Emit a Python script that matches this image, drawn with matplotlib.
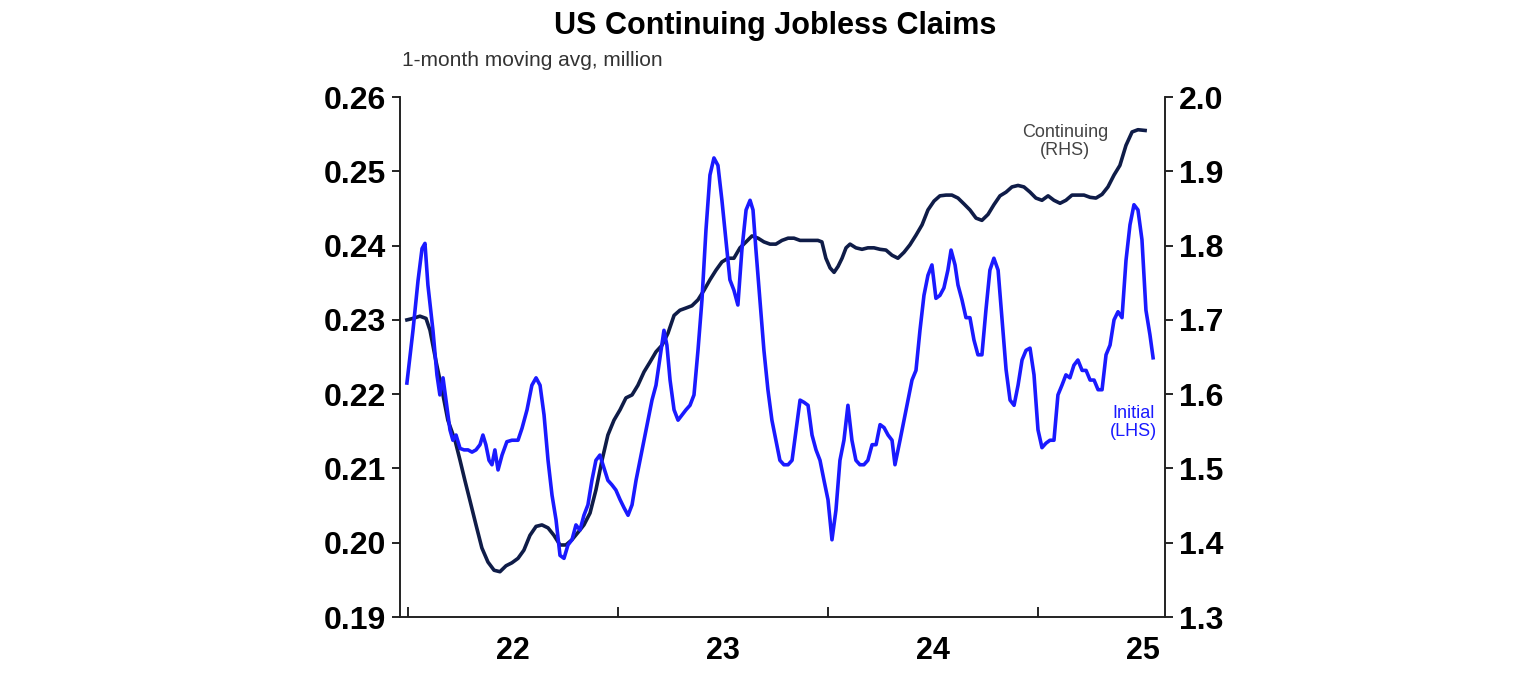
import matplotlib.pyplot as plt
from matplotlib.ticker import FixedLocator, NullFormatter, FixedFormatter

plt.rcParams["font.family"] = "Liberation Sans"

# data: decimal years, initial claims (LHS, million), continuing claims (RHS, million)
initial_x = [2021.495, 2021.524, 2021.548, 2021.567, 2021.581, 2021.595, 2021.619, 2021.638, 2021.652, 2021.667,
             2021.681, 2021.700, 2021.714, 2021.729, 2021.748, 2021.767, 2021.786, 2021.805, 2021.824, 2021.843,
             2021.857, 2021.871, 2021.886, 2021.900, 2021.914, 2021.929, 2021.948, 2021.971, 2021.995, 2022.024,
             2022.043, 2022.067, 2022.090, 2022.110, 2022.129, 2022.148, 2022.167, 2022.186, 2022.205, 2022.224,
             2022.243, 2022.262, 2022.281, 2022.300, 2022.319, 2022.338, 2022.357, 2022.376, 2022.395, 2022.414,
             2022.433, 2022.452, 2022.471, 2022.490, 2022.510, 2022.529, 2022.548, 2022.567, 2022.586, 2022.605,
             2022.624, 2022.643, 2022.662, 2022.681, 2022.700, 2022.719, 2022.733, 2022.748, 2022.767, 2022.786,
             2022.805, 2022.824, 2022.843, 2022.862, 2022.881, 2022.900, 2022.919, 2022.938, 2022.957, 2022.976,
             2022.995, 2023.014, 2023.033, 2023.052, 2023.071, 2023.090, 2023.110, 2023.129, 2023.143, 2023.157,
             2023.176, 2023.195, 2023.214, 2023.233, 2023.252, 2023.271, 2023.290, 2023.310, 2023.329, 2023.348,
             2023.367, 2023.386, 2023.405, 2023.424, 2023.443, 2023.462, 2023.481, 2023.500, 2023.519, 2023.538,
             2023.557, 2023.576, 2023.595, 2023.614, 2023.633, 2023.652, 2023.671, 2023.690, 2023.710, 2023.729,
             2023.748, 2023.767, 2023.786, 2023.805, 2023.819, 2023.843, 2023.862, 2023.881, 2023.900, 2023.919,
             2023.938, 2023.957, 2023.976, 2023.995, 2024.014, 2024.033, 2024.052, 2024.071, 2024.086, 2024.105,
             2024.119, 2024.138, 2024.157, 2024.176, 2024.195, 2024.214, 2024.233, 2024.252, 2024.271, 2024.290,
             2024.310, 2024.329, 2024.348, 2024.367, 2024.386, 2024.405, 2024.424, 2024.443, 2024.462, 2024.481,
             2024.500, 2024.519, 2024.538, 2024.557, 2024.576, 2024.595, 2024.614, 2024.633, 2024.652, 2024.671,
             2024.690, 2024.710, 2024.729, 2024.748, 2024.767, 2024.786, 2024.805, 2024.824, 2024.843, 2024.862,
             2024.881, 2024.900, 2024.919, 2024.938, 2024.957, 2024.976, 2024.995, 2025.014, 2025.033, 2025.048]
initial_claims = [0.2215, 0.2286, 0.2353, 0.2396, 0.2403, 0.2347, 0.2286, 0.2226, 0.2199, 0.2222,
                  0.2192, 0.2152, 0.2138, 0.2145, 0.2127, 0.2125, 0.2125, 0.2122, 0.2125, 0.2132,
                  0.2145, 0.2132, 0.2111, 0.2105, 0.2125, 0.2098, 0.2118, 0.2136, 0.2138, 0.2138,
                  0.2154, 0.2179, 0.2212, 0.2222, 0.2212, 0.2172, 0.2111, 0.2064, 0.2031, 0.1983,
                  0.1979, 0.1997, 0.2004, 0.2024, 0.2017, 0.2037, 0.2051, 0.2084, 0.2111, 0.2118,
                  0.2101, 0.2084, 0.2078, 0.2071, 0.2058, 0.2047, 0.2037, 0.2051, 0.2084, 0.2111,
                  0.2138, 0.2165, 0.2192, 0.2212, 0.2249, 0.2286, 0.2266, 0.2219, 0.2179, 0.2165,
                  0.2172, 0.2179, 0.2185, 0.2199, 0.2259, 0.2327, 0.2421, 0.2495, 0.2518, 0.2508,
                  0.2461, 0.2408, 0.2354, 0.2340, 0.2320, 0.2394, 0.2448, 0.2461, 0.2448, 0.2394,
                  0.2327, 0.2259, 0.2206, 0.2165, 0.2138, 0.2111, 0.2105, 0.2105, 0.2111, 0.2152,
                  0.2192, 0.2189, 0.2185, 0.2145, 0.2125, 0.2111, 0.2084, 0.2058, 0.2004, 0.2044,
                  0.2111, 0.2138, 0.2185, 0.2138, 0.2111, 0.2105, 0.2105, 0.2111, 0.2132, 0.2132,
                  0.2159, 0.2155, 0.2145, 0.2138, 0.2105, 0.2138, 0.2165, 0.2192, 0.2219, 0.2232,
                  0.2286, 0.2333, 0.2360, 0.2374, 0.2329, 0.2333, 0.2343, 0.2367, 0.2394, 0.2374,
                  0.2347, 0.2327, 0.2303, 0.2303, 0.2273, 0.2253, 0.2253, 0.2313, 0.2367, 0.2383,
                  0.2367, 0.2300, 0.2233, 0.2192, 0.2185, 0.2212, 0.2246, 0.2259, 0.2262, 0.2226,
                  0.2152, 0.2128, 0.2134, 0.2138, 0.2138, 0.2199, 0.2212, 0.2226, 0.2222, 0.2239,
                  0.2246, 0.2232, 0.2232, 0.2219, 0.2219, 0.2206, 0.2206, 0.2253, 0.2266, 0.2300,
                  0.2311, 0.2303, 0.2380, 0.2428, 0.2455, 0.2448, 0.2408, 0.2313, 0.2280, 0.2249]

cont_x = [2021.495, 2021.524, 2021.557, 2021.586, 2021.605, 2021.633, 2021.662, 2021.690, 2021.724, 2021.748,
          2021.771, 2021.795, 2021.824, 2021.852, 2021.881, 2021.910, 2021.938, 2021.967, 2021.995, 2022.024,
          2022.052, 2022.081, 2022.110, 2022.138, 2022.167, 2022.195, 2022.224, 2022.252, 2022.281, 2022.310,
          2022.338, 2022.367, 2022.395, 2022.424, 2022.452, 2022.481, 2022.510, 2022.538, 2022.567, 2022.595,
          2022.624, 2022.652, 2022.681, 2022.710, 2022.738, 2022.767, 2022.795, 2022.824, 2022.852, 2022.881,
          2022.910, 2022.938, 2022.967, 2022.995, 2023.024, 2023.052, 2023.081, 2023.110, 2023.138, 2023.167,
          2023.195, 2023.224, 2023.252, 2023.281, 2023.310, 2023.338, 2023.367, 2023.395, 2023.424, 2023.452,
          2023.471, 2023.490, 2023.510, 2023.529, 2023.548, 2023.567, 2023.586, 2023.605, 2023.633, 2023.662,
          2023.690, 2023.719, 2023.748, 2023.776, 2023.805, 2023.833, 2023.862, 2023.890, 2023.919, 2023.948,
          2023.976, 2024.005, 2024.033, 2024.062, 2024.090, 2024.119, 2024.148, 2024.176, 2024.205, 2024.233,
          2024.262, 2024.290, 2024.319, 2024.348, 2024.376, 2024.405, 2024.433, 2024.462, 2024.490, 2024.519,
          2024.548, 2024.576, 2024.605, 2024.633, 2024.662, 2024.690, 2024.719, 2024.748, 2024.776, 2024.805,
          2024.833, 2024.862, 2024.890, 2024.919, 2024.948, 2024.976, 2025.010]
continuing_claims = [1.700, 1.702, 1.705, 1.702, 1.686, 1.645, 1.606, 1.565, 1.538, 1.511,
                     1.484, 1.457, 1.424, 1.393, 1.374, 1.363, 1.361, 1.369, 1.373, 1.379,
                     1.390, 1.410, 1.422, 1.424, 1.420, 1.410, 1.397, 1.397, 1.404, 1.414,
                     1.424, 1.440, 1.471, 1.511, 1.545, 1.565, 1.579, 1.595, 1.599, 1.612,
                     1.630, 1.643, 1.657, 1.666, 1.682, 1.706, 1.713, 1.716, 1.719, 1.727,
                     1.740, 1.754, 1.767, 1.778, 1.783, 1.783, 1.797, 1.805, 1.813, 1.810,
                     1.805, 1.802, 1.802, 1.807, 1.810, 1.810, 1.807, 1.807, 1.807, 1.807,
                     1.805, 1.783, 1.770, 1.764, 1.772, 1.783, 1.797, 1.802, 1.797, 1.795,
                     1.797, 1.797, 1.795, 1.794, 1.787, 1.783, 1.791, 1.801, 1.814, 1.828,
                     1.848, 1.860, 1.867, 1.868, 1.868, 1.864, 1.856, 1.848, 1.837, 1.834,
                     1.842, 1.855, 1.867, 1.872, 1.879, 1.881, 1.879, 1.872, 1.864, 1.861,
                     1.867, 1.861, 1.857, 1.861, 1.868, 1.868, 1.868, 1.865, 1.864, 1.869,
                     1.879, 1.895, 1.908, 1.935, 1.953, 1.956, 1.955]

year_labels = ["22", "23", "24", "25"]
year_label_pos = [2022.0, 2023.0, 2024.0, 2025.0]
year_tick_pos = [2021.5, 2022.5, 2023.5, 2024.5]
left_ticks = [0.19, 0.20, 0.21, 0.22, 0.23, 0.24, 0.25, 0.26]
right_ticks = [1.3, 1.4, 1.5, 1.6, 1.7, 1.8, 1.9, 2.0]

blue = "#1a1aff"
navy = "#0f1c48"

fig = plt.figure(figsize=(15.36, 6.8), dpi=100)
ax = fig.add_axes([0.2604, 0.0926, 0.4981, 0.7647])
ax2 = ax.twinx()

ax.plot(initial_x, initial_claims, color=blue, lw=2.6, zorder=3)
ax2.plot(cont_x, continuing_claims, color=navy, lw=2.6)
ax.set_zorder(ax2.get_zorder() + 1)
ax.patch.set_visible(False)

ax.set_xlim(2021.462, 2025.105)
ax.set_ylim(0.19, 0.26)
ax2.set_ylim(1.3, 2.0)

ax.set_yticks(left_ticks)
ax.set_yticklabels([f"{v:.2f}" for v in left_ticks])
ax2.set_yticks(right_ticks)
ax2.set_yticklabels([f"{v:.1f}" for v in right_ticks])

ax.xaxis.set_major_locator(FixedLocator(year_tick_pos))
ax.xaxis.set_major_formatter(NullFormatter())
ax.xaxis.set_minor_locator(FixedLocator(year_label_pos))
ax.xaxis.set_minor_formatter(FixedFormatter(year_labels))
ax.tick_params(axis="x", which="major", direction="in", length=7, width=1.2)
ax.tick_params(axis="x", which="minor", length=0, pad=14, labelsize=22)

for a in (ax, ax2):
    a.spines["top"].set_visible(False)
    for s in ("left", "right", "bottom"):
        a.spines[s].set_linewidth(1.2)
        a.spines[s].set_color("#222222")
ax.tick_params(axis="y", direction="out", length=6, width=1.2, labelsize=23, pad=4)
ax2.tick_params(axis="y", direction="out", length=6, width=1.2, labelsize=23, pad=4)
for lbl in ax.get_yticklabels() + ax2.get_yticklabels() + ax.get_xminorticklabels():
    lbl.set_fontweight("bold")

fig.text(0.505, 0.962, "US Continuing Jobless Claims", ha="center", va="center",
         fontsize=22, fontweight="bold")
fig.text(0.262, 0.911, "1-month moving avg, million", ha="left", va="center",
         fontsize=15, color="#333333")

ax2.text(2024.63, 1.94, "Continuing\n(RHS)", ha="center", va="center", fontsize=13,
         color="#444444", linespacing=1.1)
ax.text(2024.955, 0.2162, "Initial\n(LHS)", ha="center", va="center", fontsize=13,
        color=blue, linespacing=1.1)

fig.savefig("out.png", dpi=100)
